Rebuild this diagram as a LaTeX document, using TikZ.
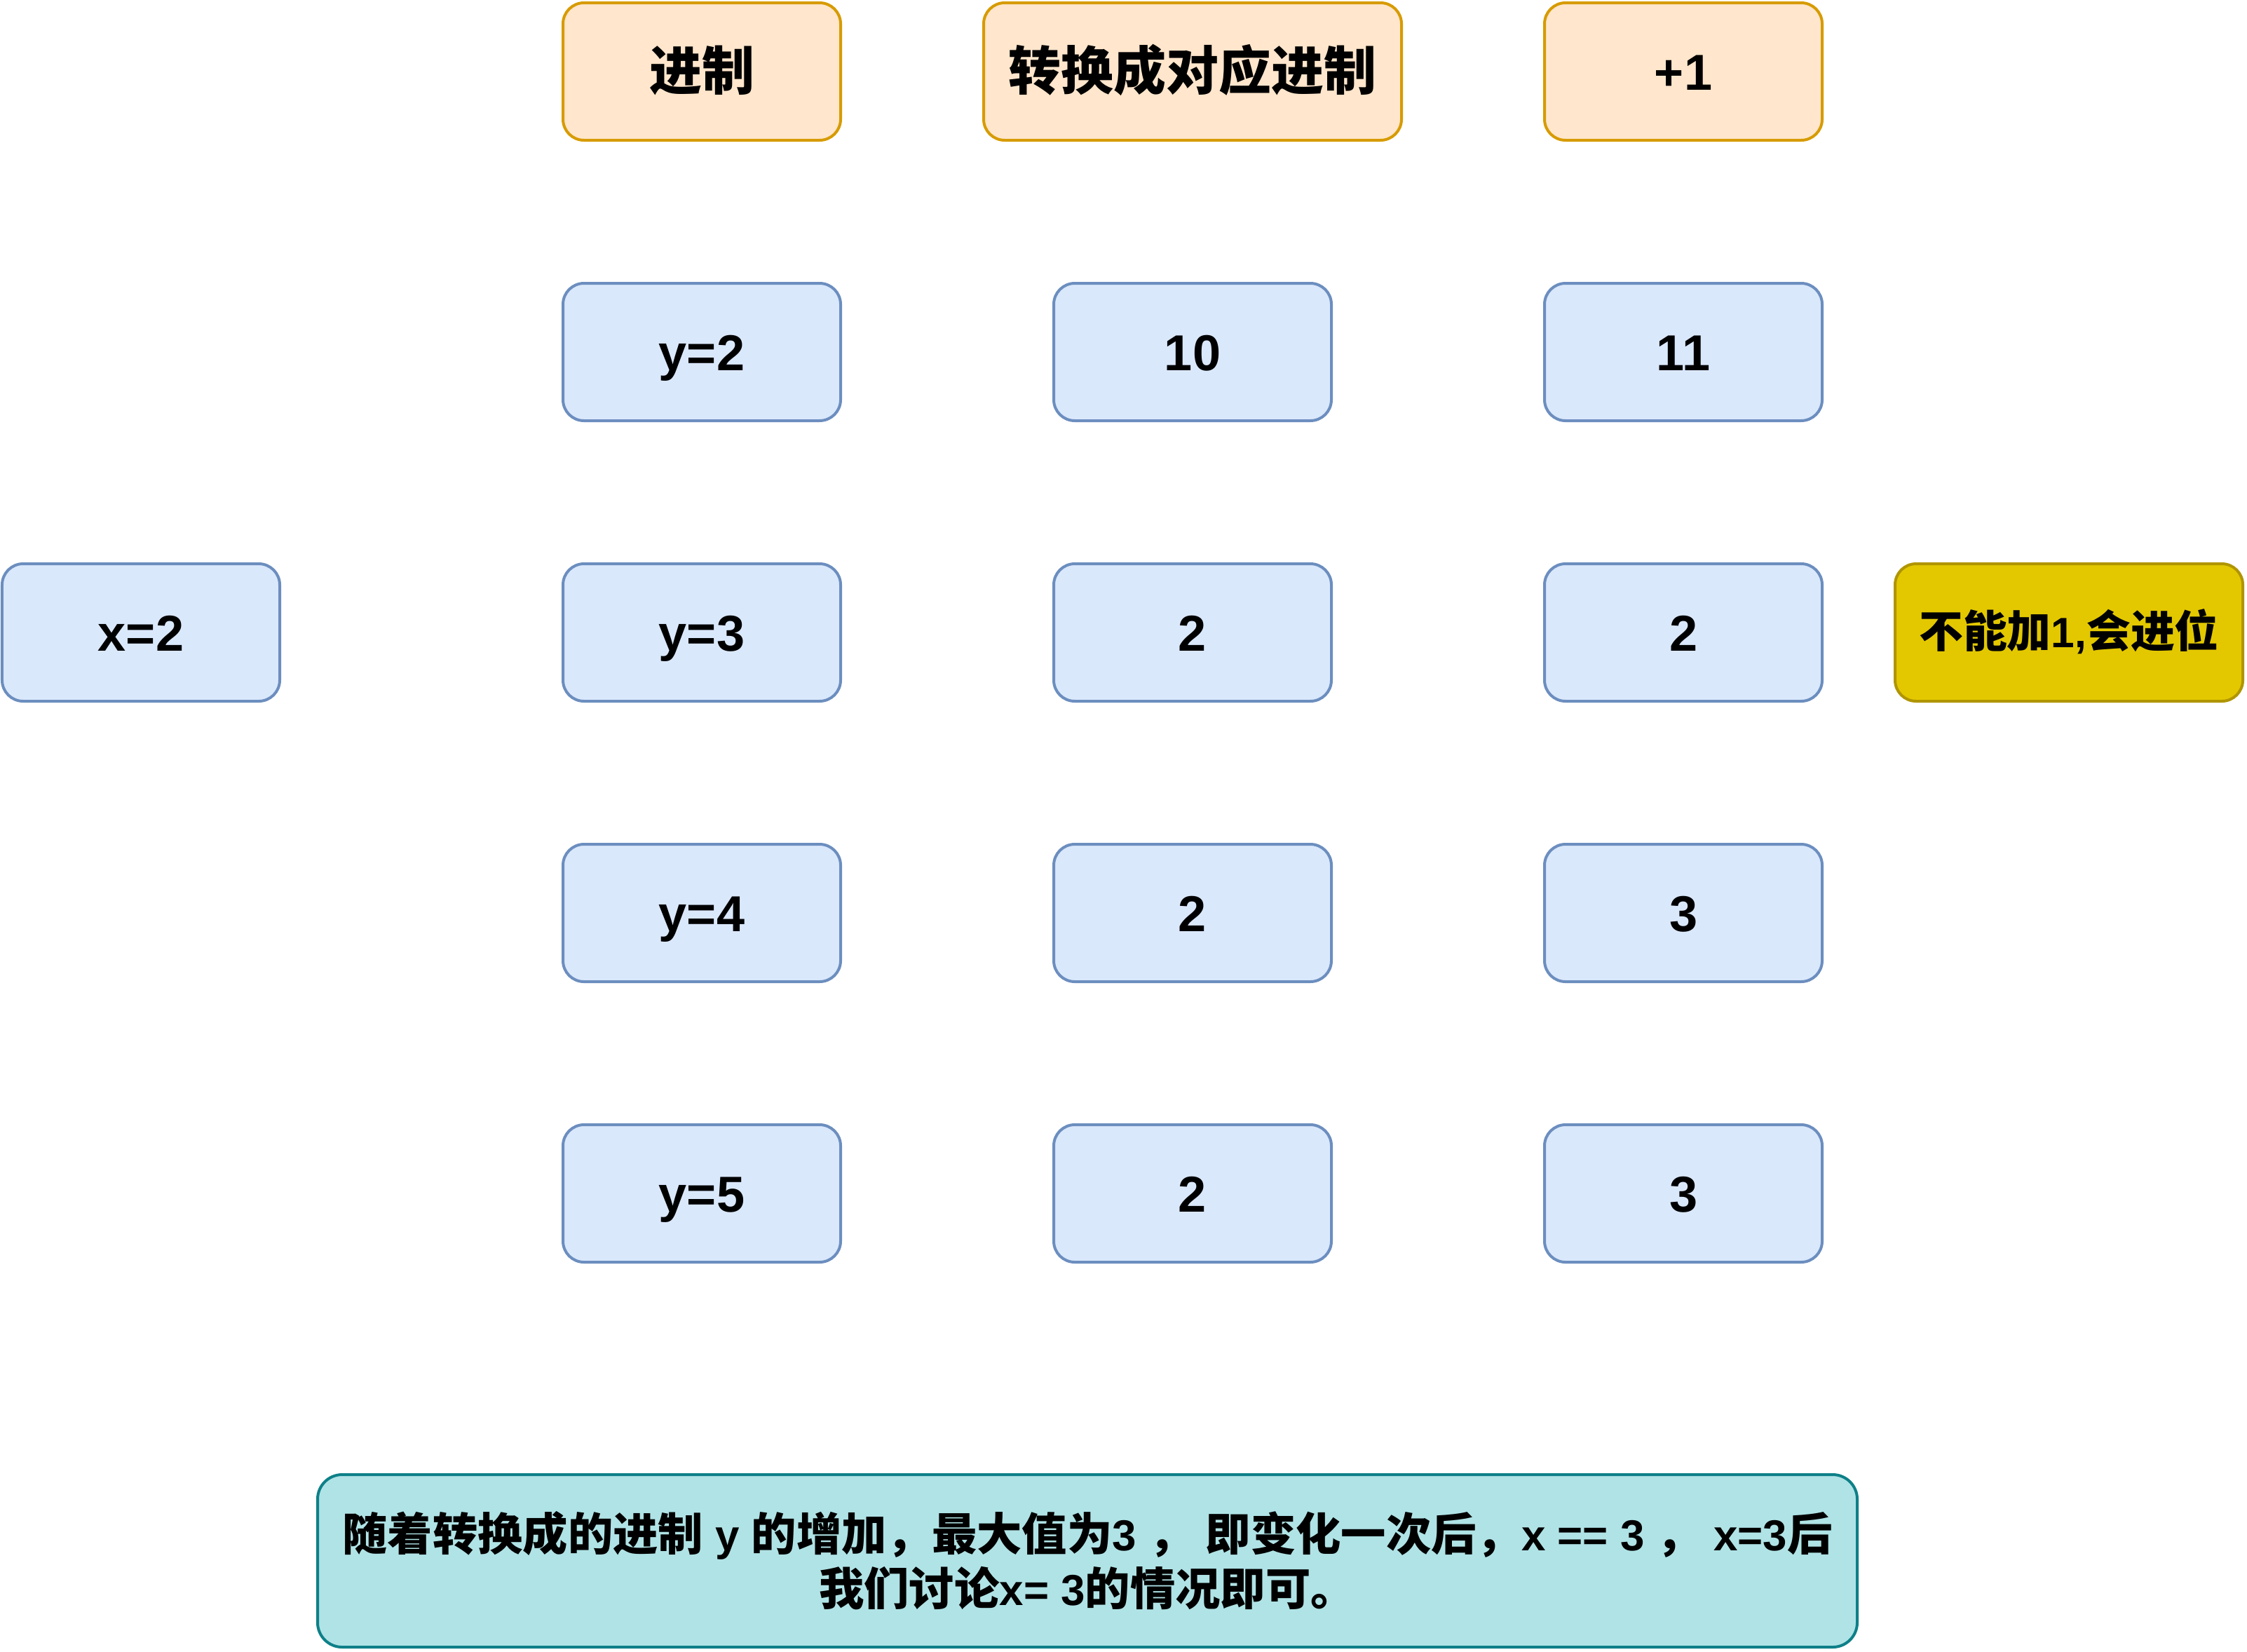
\documentclass[tikz,border=0pt]{standalone}
\usepackage{fontspec}
\setmainfont{Liberation Sans}
\newfontfamily\cjk[Scale=1.04]{Noto Sans CJK SC}
\definecolor{ofill}{HTML}{FFE6CC}
\definecolor{odraw}{HTML}{D79B00}
\definecolor{bfill}{HTML}{DAE8FC}
\definecolor{bdraw}{HTML}{6C8EBF}
\definecolor{yfill}{HTML}{E3C800}
\definecolor{ydraw}{HTML}{B09500}
\definecolor{tfill}{HTML}{B0E3E6}
\definecolor{tdraw}{HTML}{0E8088}
\tikzset{
  box/.style={rectangle, rounded corners=0.3cm, line width=0.04cm, inner sep=0pt,
    minimum width=3.96cm, minimum height=1.96cm, align=center,
    font=\fontsize{20.5}{24}\selectfont\bfseries},
  single/.style={box, text height=14.8pt, text depth=0pt},
  hdr/.style={single, fill=ofill, draw=odraw},
  blu/.style={single, fill=bfill, draw=bdraw},
  yel/.style={single, fill=yfill, draw=ydraw, minimum width=4.96cm, text height=12.4pt,
    font=\fontsize{17.2}{21}\selectfont\bfseries},
  note/.style={box, fill=tfill, draw=tdraw, minimum width=21.96cm, minimum height=2.46cm,
    rounded corners=0.35cm, font=\fontsize{17.6}{22.2}\selectfont\bfseries},
}
\begin{document}
\begin{tikzpicture}
\useasboundingbox (0,0) rectangle (32.05,-23.55);
% headers
\node[hdr] (h1) at (10.01,-1.02) {\cjk 进制};
\node[hdr, minimum width=5.96cm] (h2) at (17.01,-1.02) {\cjk 转换成对应进制};
\node[hdr] (h3) at (24.01,-1.02) {+1};
% row 1
\node[blu] (a1) at (10.01,-5.02) {y=2};
\node[blu] (b1) at (17.01,-5.02) {10};
\node[blu] (c1) at (24.01,-5.02) {11};
% row 2
\node[blu] (x) at (2.01,-9.02) {x=2};
\node[blu] (a2) at (10.01,-9.02) {y=3};
\node[blu] (b2) at (17.01,-9.02) {2};
\node[blu] (c2) at (24.01,-9.02) {2};
\node[yel] (n) at (29.51,-9.02) {{\cjk 不能加}1,{\cjk 会进位}};
% row 3
\node[blu] (a3) at (10.01,-13.02) {y=4};
\node[blu] (b3) at (17.01,-13.02) {2};
\node[blu] (c3) at (24.01,-13.02) {3};
% row 4
\node[blu] (a4) at (10.01,-17.02) {y=5};
\node[blu] (b4) at (17.01,-17.02) {2};
\node[blu] (c4) at (24.01,-17.02) {3};
% note
\node[note] (m) at (15.51,-22.26) {{\cjk 随着转换成的进制} y {\cjk 的增加，最大值为}3 {\cjk ，} {\cjk 即变化一次后，}x == 3 {\cjk ，} x=3{\cjk 后}\\{\cjk 我们讨论}x= 3{\cjk 的情况即可。}};
\end{tikzpicture}
\end{document}
